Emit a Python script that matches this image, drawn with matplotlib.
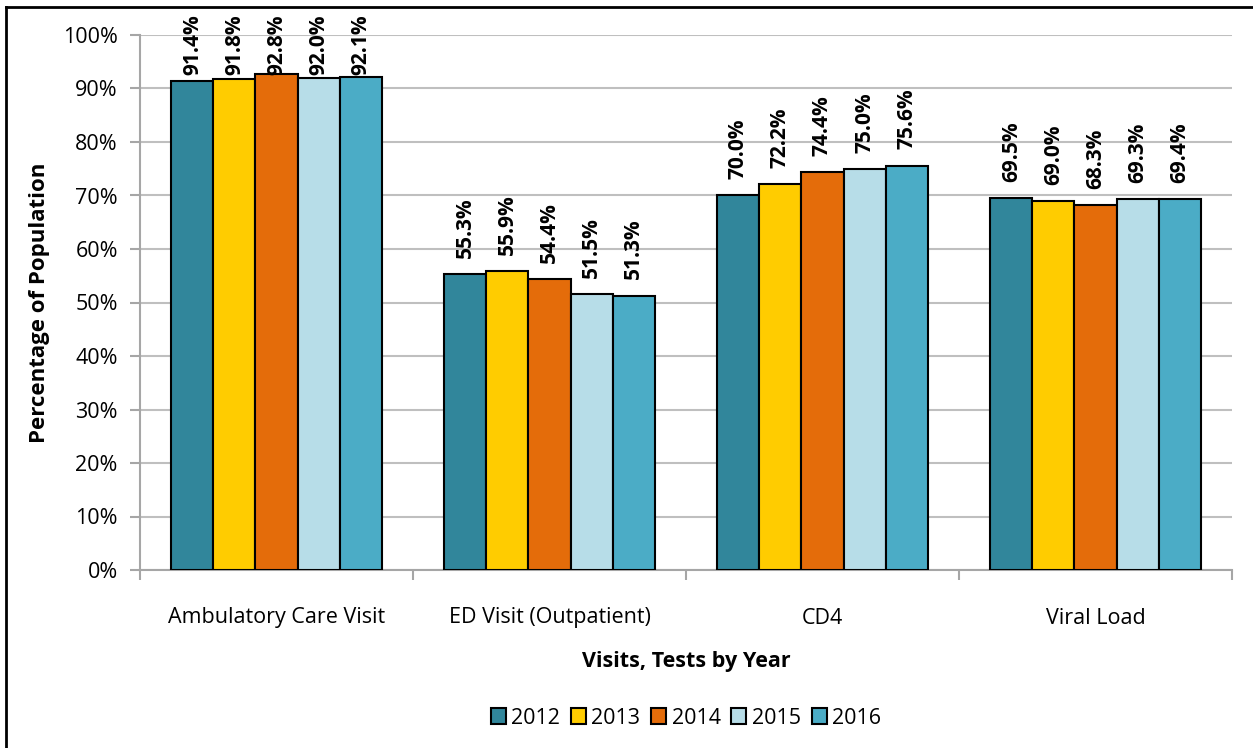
import numpy as np
import matplotlib
matplotlib.use("Agg")
import matplotlib.pyplot as plt
from matplotlib.lines import Line2D
from matplotlib.ticker import PercentFormatter

plt.rcParams['font.family'] = ['Open Sans', 'DejaVu Sans']

# data
categories = ['Ambulatory Care Visit', 'ED Visit (Outpatient)', 'CD4', 'Viral Load']
years = ['2012', '2013', '2014', '2015', '2016']
v2012 = [91.4, 55.3, 70.0, 69.5]
v2013 = [91.8, 55.9, 72.2, 69.0]
v2014 = [92.8, 54.4, 74.4, 68.3]
v2015 = [92.0, 51.5, 75.0, 69.3]
v2016 = [92.1, 51.3, 75.6, 69.4]
series = [v2012, v2013, v2014, v2015, v2016]
colors = ['#31869B', '#FFCC00', '#E46C0A', '#B7DDE8', '#4BACC6']

fs = 15.5

fig = plt.figure(figsize=(12.53, 7.48), dpi=100)
ax = fig.add_axes([140 / 1253, 1 - 570 / 748, 1092 / 1253, 535 / 748])

x = np.arange(len(categories))
w = 0.154
for i, (vals, c, yr) in enumerate(zip(series, colors, years)):
    pos = x + (i - 2) * w
    bars = ax.bar(pos, vals, w, color=c, edgecolor='black', linewidth=1.5,
                  label=yr, zorder=3)
    for b, v in zip(bars, vals):
        # labels near the top get pushed down to stay inside the plot, like Excel
        ax.text(b.get_x() + b.get_width() / 2, min(v + 3.0, 92.5), f'{v:.1f}%',
                rotation=90, ha='center', va='bottom', fontsize=15,
                fontweight='bold', zorder=4)

ax.set_xlim(-0.5, len(categories) - 0.5)
ax.set_ylim(0, 100)
ax.set_yticks(np.arange(0, 101, 10))
ax.yaxis.set_major_formatter(PercentFormatter(decimals=0))
ax.set_xticks(x)
ax.set_xticklabels(categories, fontsize=fs)
ax.set_xticks(np.arange(-0.5, len(categories), 1), minor=True)
ax.tick_params(axis='x', which='major', length=0, pad=27)
ax.tick_params(axis='x', which='minor', length=7, color='#A6A6A6', width=1.5, direction='out')
ax.tick_params(axis='y', length=7, color='#A6A6A6', width=1.5, labelsize=fs, pad=9)

ax.grid(axis='y', color='#BFBFBF', linewidth=1.5, zorder=0)
for s in ['top', 'right']:
    ax.spines[s].set_visible(False)
ax.spines['left'].set_color('#A6A6A6')
ax.spines['left'].set_linewidth(1.5)
ax.spines['bottom'].set_color('#A6A6A6')
ax.spines['bottom'].set_linewidth(1.5)

ax.set_ylabel('Percentage of Population', fontsize=16, fontweight='bold', labelpad=9)
fig.text(686 / 1253, 1 - 662 / 748, 'Visits, Tests by Year', ha='center', va='center',
         fontsize=15.5, fontweight='bold')

leg = fig.legend(loc='center', bbox_to_anchor=(686 / 1253, 1 - 718 / 748), ncol=5,
                 frameon=False, fontsize=15.5, handlelength=0.7, handleheight=0.7,
                 handletextpad=0.25, columnspacing=0.5)
for h in leg.legend_handles:
    h.set_linewidth(1.5)

# outer border (top and left visible)
fig.add_artist(Line2D([6 / 1253, 1], [1 - 7 / 748, 1 - 7 / 748], color='black', linewidth=2,
                      transform=fig.transFigure))
fig.add_artist(Line2D([6 / 1253, 6 / 1253], [0, 1 - 7 / 748], color='black', linewidth=2,
                      transform=fig.transFigure))

fig.savefig('out.png', dpi=100)
